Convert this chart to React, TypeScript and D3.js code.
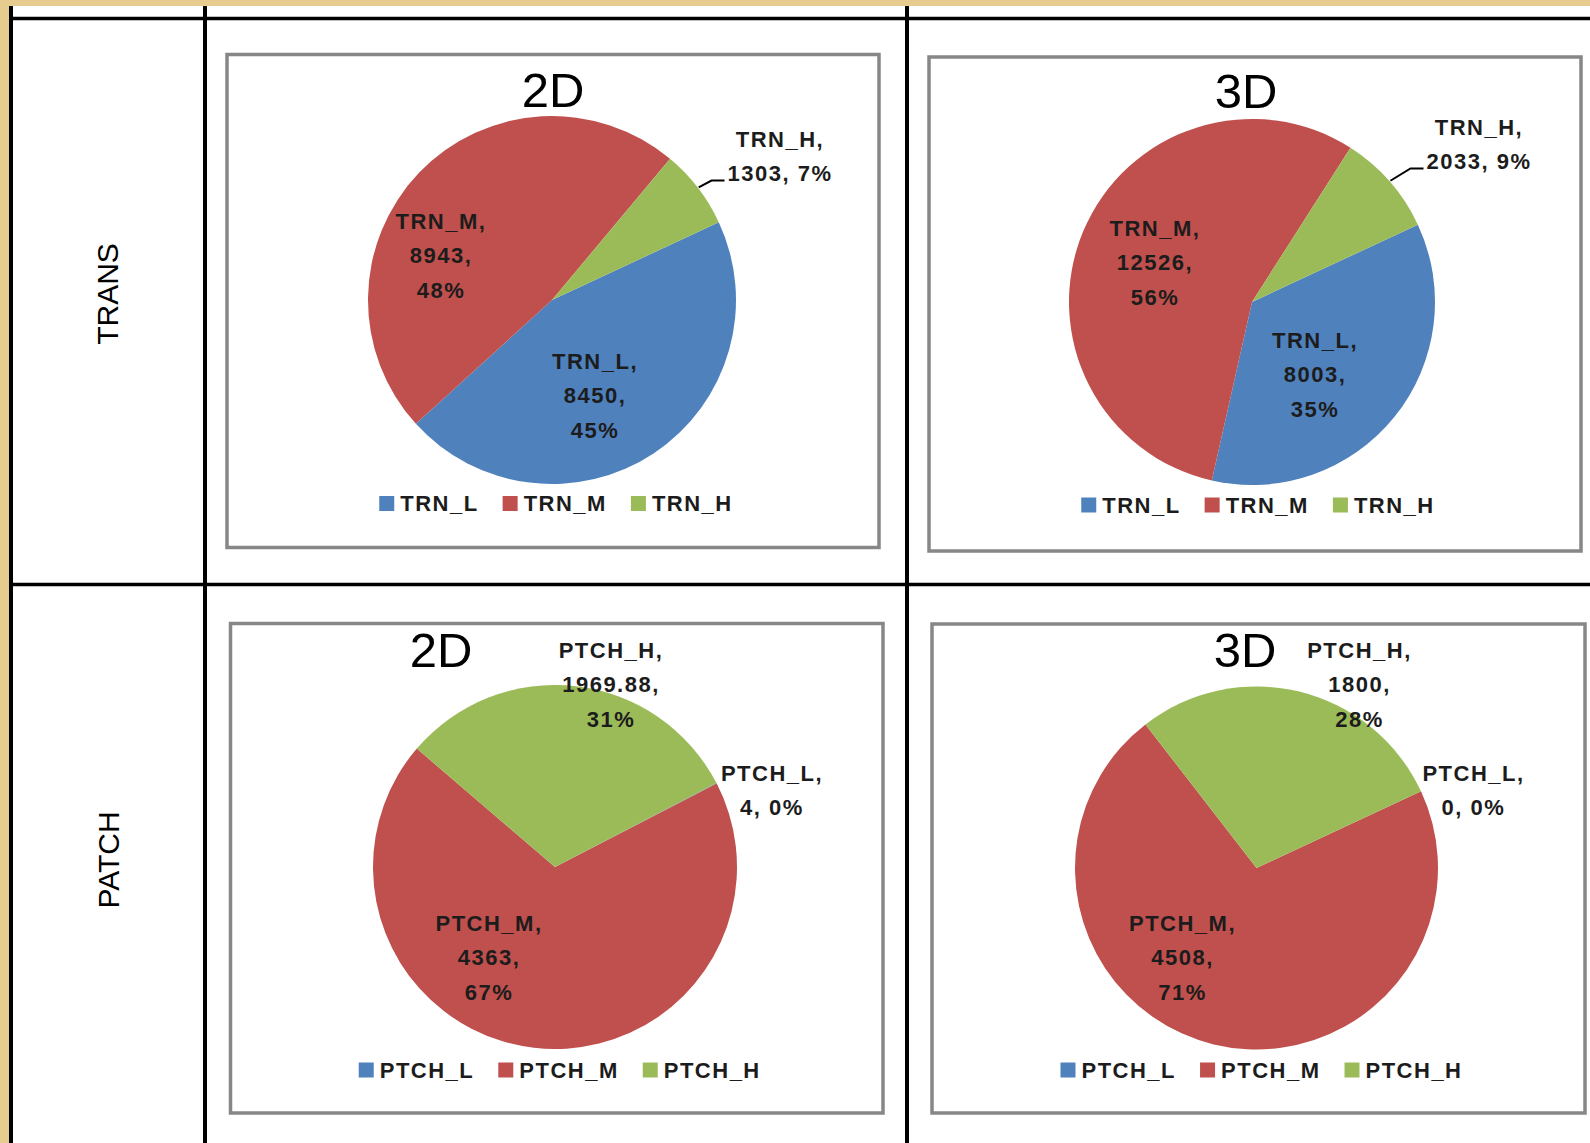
import React, { useEffect, useRef } from "react";
import * as d3 from "d3";

// ---------- data ----------
const rowLabels = ["TRANS", "PATCH"];
const panelTitles = ["2D", "3D", "2D", "3D"];

const transCategories = ["TRN_L", "TRN_M", "TRN_H"];
const patchCategories = ["PTCH_L", "PTCH_M", "PTCH_H"];

const trans2DValues = [8450, 8943, 1303];
const trans3DValues = [8003, 12526, 2033];
const patch2DValues = [4, 4363, 1969.88];
const patch3DValues = [0, 4508, 1800];

const trans2DPercents = ["45%", "48%", "7%"];
const trans3DPercents = ["35%", "56%", "9%"];
const patch2DPercents = ["0%", "67%", "31%"];
const patch3DPercents = ["0%", "71%", "28%"];

const sliceColors = ["#4f81bd", "#c0504d", "#9bbb59"];

// ---------- layout / style ----------
const W = 1590;
const H = 1143;
const LABEL_FONT = "'Liberation Sans', Arial, sans-serif";
const LINE_H = 34.5;

const panels = [
  {
    title: panelTitles[0], cats: transCategories, values: trans2DValues, pcts: trans2DPercents,
    box: [227, 54.5, 879, 547.5], cx: 552, cy: 300, r: 184, startDeg: 65,
    titleX: 553, titleY: 107, legendY: 503.5,
    labelOffsets: [[43, 61], [-111, -79], [228, -161]], lines: [3, 3, 2], leader: [false, false, true],
  },
  {
    title: panelTitles[1], cats: transCategories, values: trans3DValues, pcts: trans3DPercents,
    box: [929, 57, 1581, 551], cx: 1252, cy: 302, r: 183, startDeg: 65,
    titleX: 1246, titleY: 108, legendY: 505,
    labelOffsets: [[63, 38], [-97, -74], [227, -175]], lines: [3, 3, 2], leader: [false, false, true],
  },
  {
    title: panelTitles[2], cats: patchCategories, values: patch2DValues, pcts: patch2DPercents,
    box: [230.5, 623.5, 883, 1113], cx: 555, cy: 867, r: 182, startDeg: 62.5,
    titleX: 441, titleY: 667, legendY: 1070,
    labelOffsets: [[217, -94], [-66, 56], [56, -217]], lines: [2, 3, 3], leader: [false, false, false],
  },
  {
    title: panelTitles[3], cats: patchCategories, values: patch3DValues, pcts: patch3DPercents,
    box: [932, 624, 1585, 1113], cx: 1256.5, cy: 868, r: 181.5, startDeg: 65,
    titleX: 1245, titleY: 667, legendY: 1070,
    labelOffsets: [[217, -95], [-74, 55], [103, -218]], lines: [2, 3, 3], leader: [false, false, false],
  },
];

function labelLines(cat: string, v: number, pct: string, n: number): string[] {
  const vs = String(v);
  return n === 3 ? [cat + ",", vs + ",", pct] : [cat + ",", vs + ", " + pct];
}

export default function App() {
  const ref = useRef<SVGSVGElement | null>(null);

  useEffect(() => {
    const svg = d3.select(ref.current);
    svg.selectAll("*").remove();

    // background
    svg.append("rect").attr("width", W).attr("height", H).attr("fill", "#ffffff");
    svg.append("rect").attr("x", 0).attr("y", 0).attr("width", W).attr("height", 6).attr("fill", "#e6cc8e");
    svg.append("rect").attr("x", 0).attr("y", 0).attr("width", 9).attr("height", H).attr("fill", "#e6cc8e");

    // table grid
    const grid = svg.append("g").attr("stroke", "#000").attr("fill", "none");
    grid.append("line").attr("x1", 11).attr("x2", 11).attr("y1", 6).attr("y2", H).attr("stroke-width", 4);
    grid.append("line").attr("x1", 205).attr("x2", 205).attr("y1", 6).attr("y2", H).attr("stroke-width", 4);
    grid.append("line").attr("x1", 907).attr("x2", 907).attr("y1", 6).attr("y2", H).attr("stroke-width", 4);
    grid.append("line").attr("x1", 9).attr("x2", W).attr("y1", 18.5).attr("y2", 18.5).attr("stroke-width", 3.5);
    grid.append("line").attr("x1", 9).attr("x2", W).attr("y1", 584.5).attr("y2", 584.5).attr("stroke-width", 3.5);

    // row labels
    const rowPos = [[107, 294], [108, 860]];
    rowLabels.forEach((t, i) => {
      svg.append("text")
        .attr("transform", `translate(${rowPos[i][0]},${rowPos[i][1]}) rotate(-90)`)
        .attr("text-anchor", "middle")
        .attr("dominant-baseline", "central")
        .attr("font-family", LABEL_FONT)
        .attr("font-size", 30)
        .attr("fill", "#000")
        .text(t);
    });

    panels.forEach((p) => {
      const g = svg.append("g");
      const [x0, y0, x1, y1] = p.box;
      g.append("rect")
        .attr("x", x0).attr("y", y0).attr("width", x1 - x0).attr("height", y1 - y0)
        .attr("fill", "#fff").attr("stroke", "#878787").attr("stroke-width", 3.5);

      // title
      g.append("text")
        .attr("x", p.titleX).attr("y", p.titleY)
        .attr("text-anchor", "middle")
        .attr("font-family", LABEL_FONT)
        .attr("font-size", 49)
        .attr("fill", "#000")
        .text(p.title);

      const start = (p.startDeg * Math.PI) / 180;
      const pie = d3.pie<number>().sort(null).value((d) => d)
        .startAngle(start).endAngle(start + 2 * Math.PI);
      const arcs = pie(p.values);
      const arc = d3.arc<d3.PieArcDatum<number>>().innerRadius(0).outerRadius(p.r);
      const edgeArc = d3.arc<d3.PieArcDatum<number>>().innerRadius(p.r + 1).outerRadius(p.r + 1);

      const pg = g.append("g").attr("transform", `translate(${p.cx},${p.cy})`);
      pg.selectAll("path.slice")
        .data(arcs)
        .join("path")
        .attr("class", "slice")
        .attr("d", (d) => arc(d) || "")
        .attr("fill", (_d, i) => sliceColors[i]);

      // data labels
      arcs.forEach((a, i) => {
        const lines = labelLines(p.cats[i], p.values[i], p.pcts[i], p.lines[i]);
        const lx = p.cx + p.labelOffsets[i][0];
        const ly = p.cy + p.labelOffsets[i][1];
        const tg = g.append("g");
        const texts = lines.map((ln, k) =>
          tg.append("text")
            .attr("x", lx).attr("y", ly + k * LINE_H)
            .attr("text-anchor", "middle")
            .attr("dominant-baseline", "central")
            .attr("font-family", LABEL_FONT)
            .attr("font-weight", "bold")
            .attr("font-size", 22)
            .attr("letter-spacing", 1.5)
            .attr("fill", "#1c1c1c")
            .text(ln)
        );
        if (p.leader[i]) {
          const last = texts[texts.length - 1].node() as SVGTextElement;
          const bb = last.getBBox();
          const yy = bb.y + bb.height * 0.78;
          const [ex, ey] = edgeArc.centroid(a);
          const pts: [number, number][] = [
            [bb.x - 3, yy],
            [bb.x - 16, yy],
            [p.cx + ex, p.cy + ey],
          ];
          g.append("path")
            .attr("d", d3.line()(pts) || "")
            .attr("fill", "none")
            .attr("stroke", "#000")
            .attr("stroke-width", 2);
        }
      });

      // legend
      const lg = g.append("g");
      const sq = 15;
      const gapTxt = 6;
      const gapItem = 24;
      const items = p.cats.map((c, i) => {
        const t = lg.append("text")
          .attr("font-family", LABEL_FONT)
          .attr("font-weight", "bold")
          .attr("font-size", 22)
          .attr("letter-spacing", 1.5)
          .attr("dominant-baseline", "central")
          .attr("fill", "#1c1c1c")
          .text(c);
        const w = (t.node() as SVGTextElement).getComputedTextLength();
        return { t, w, i };
      });
      const total = items.reduce((s, it) => s + sq + gapTxt + it.w, 0) + gapItem * (items.length - 1);
      let cx = (x0 + x1) / 2 + 3 - total / 2;
      items.forEach((it) => {
        lg.append("rect")
          .attr("x", cx).attr("y", p.legendY - sq / 2)
          .attr("width", sq).attr("height", sq)
          .attr("fill", sliceColors[it.i]);
        it.t.attr("x", cx + sq + gapTxt).attr("y", p.legendY);
        cx += sq + gapTxt + it.w + gapItem;
      });
    });
  }, []);

  return (
    <div style={{ position: "absolute", left: 0, top: 0 }}>
      <svg ref={ref} width={W} height={H} style={{ display: "block" }} />
    </div>
  );
}
